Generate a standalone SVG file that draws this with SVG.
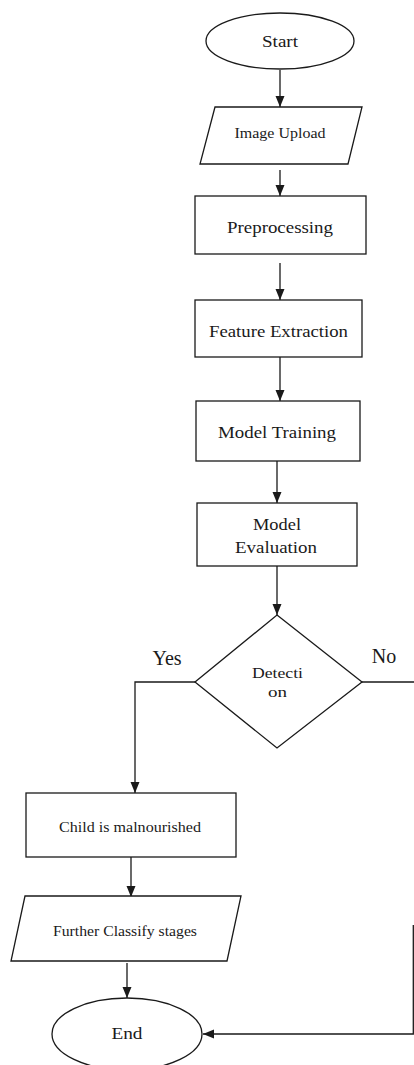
<svg xmlns="http://www.w3.org/2000/svg" width="414" height="1065" viewBox="0 0 414 1065">
<style>
.s{fill:#fff;stroke:#1a1a1a;stroke-width:1.3}
.c{fill:none;stroke:#1a1a1a;stroke-width:1.3}
text{font-family:"Liberation Serif","Times New Roman",serif;fill:#1a1a1a;text-anchor:middle}
.m{font-size:16px}
.sm{font-size:14px}
.l{font-size:20px}
</style>
<defs>
<marker id="ah" markerUnits="userSpaceOnUse" markerWidth="12" markerHeight="12" viewBox="0 0 12 12" refX="11" refY="6" orient="auto">
<path d="M0,1.5 L11,6 L0,10.5 Z" fill="#1a1a1a"/>
</marker>
</defs>
<rect width="414" height="1065" fill="#fff"/>
<g id="connectors">
<path class="c" d="M280 70 V107" marker-end="url(#ah)"/>
<path class="c" d="M280 170 V196" marker-end="url(#ah)"/>
<path class="c" d="M280 263 V300" marker-end="url(#ah)"/>
<path class="c" d="M280 357 V401" marker-end="url(#ah)"/>
<path class="c" d="M277 461 V503" marker-end="url(#ah)"/>
<path class="c" d="M277 566 V615" marker-end="url(#ah)"/>
<path class="c" d="M195 682 H135 V793" marker-end="url(#ah)"/>
<path class="c" d="M131 857 V897" marker-end="url(#ah)"/>
<path class="c" d="M127 963 V998" marker-end="url(#ah)"/>
<path class="c" d="M362 682 H414 M413.3 925 V1034 H203" marker-end="url(#ah)"/>
<text class="l" x="167" y="665">Yes</text>
<text class="l" x="384" y="663">No</text>
</g>
<g id="start">
<ellipse class="s" cx="280" cy="41" rx="74" ry="28"/>
<text class="m" x="280" y="47" textLength="36" lengthAdjust="spacingAndGlyphs">Start</text>
</g>
<g id="image-upload">
<polygon class="s" points="215,107 362,107 348,164 200,164"/>
<text class="sm" x="280" y="138" textLength="91" lengthAdjust="spacingAndGlyphs">Image Upload</text>
</g>
<g id="preprocessing">
<rect class="s" x="195" y="196" width="171" height="58"/>
<text class="m" x="280" y="233" textLength="106" lengthAdjust="spacingAndGlyphs">Preprocessing</text>
</g>
<g id="feature-extraction">
<rect class="s" x="195" y="300" width="167" height="57"/>
<text class="m" x="278.5" y="337" textLength="139" lengthAdjust="spacingAndGlyphs">Feature Extraction</text>
</g>
<g id="model-training">
<rect class="s" x="196" y="401" width="164" height="60"/>
<text class="m" x="277" y="438" textLength="118" lengthAdjust="spacingAndGlyphs">Model Training</text>
</g>
<g id="model-evaluation">
<rect class="s" x="197" y="503" width="160" height="63"/>
<text class="m" x="277" y="530" textLength="48" lengthAdjust="spacingAndGlyphs">Model</text>
<text class="m" x="276" y="553" textLength="82" lengthAdjust="spacingAndGlyphs">Evaluation</text>
</g>
<g id="detection">
<polygon class="s" points="277,615 362,682 277,748 195,682"/>
<text class="sm" x="277.5" y="678" textLength="51" lengthAdjust="spacingAndGlyphs">Detecti</text>
<text class="sm" x="277.5" y="697" textLength="19" lengthAdjust="spacingAndGlyphs">on</text>
</g>
<g id="child-malnourished">
<rect class="s" x="26" y="793" width="210" height="64"/>
<text class="sm" x="130" y="832" textLength="142" lengthAdjust="spacingAndGlyphs">Child is malnourished</text>
</g>
<g id="further-classify">
<polygon class="s" points="25,896 241,896 227,961 11,961"/>
<text class="sm" x="125" y="936" textLength="144" lengthAdjust="spacingAndGlyphs">Further Classify stages</text>
</g>
<g id="end">
<ellipse class="s" cx="127" cy="1034" rx="75" ry="36"/>
<text class="m" x="127" y="1039" textLength="31" lengthAdjust="spacingAndGlyphs">End</text>
</g>
</svg>
